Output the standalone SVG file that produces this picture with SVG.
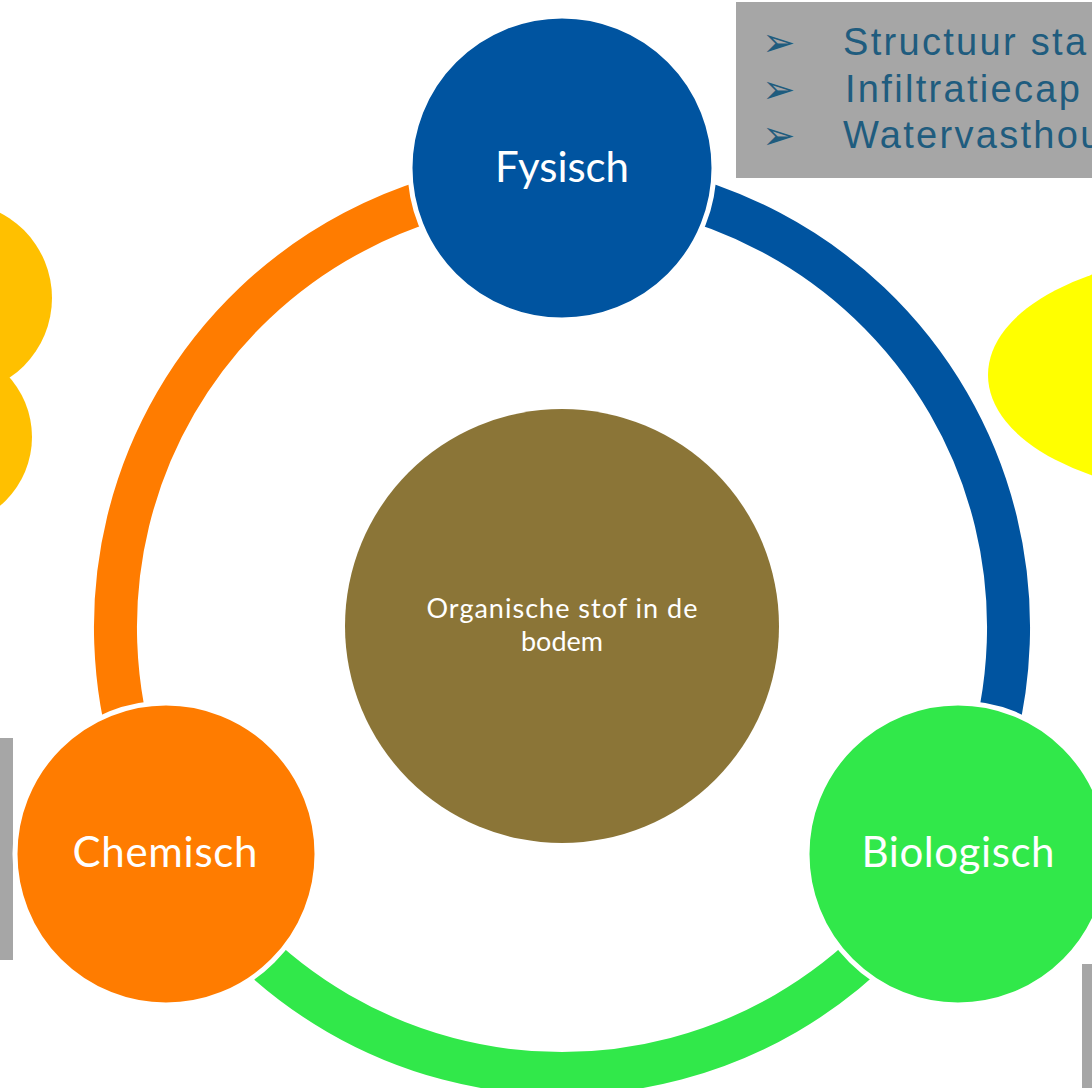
<svg xmlns="http://www.w3.org/2000/svg" width="1092" height="1088" viewBox="0 0 1092 1088">
<style>
.lbl{font-family:Lato,"Open Sans","Liberation Sans",sans-serif;fill:#ffffff;text-anchor:middle}
.big{font-size:42px}
.mid{font-size:27px}
.note{font-family:"Liberation Sans",Arial,sans-serif;font-size:38px;fill:#1f5c7e;letter-spacing:2.3px}
.bul{font-family:"DejaVu Sans",sans-serif;font-size:40px;fill:#1f5c7e}
.gray{fill:#a6a6a6}
.node{stroke:#ffffff;stroke-width:5}
.arc{fill:none;stroke-width:43;stroke-linecap:butt}
</style>
<rect width="1092" height="1088" fill="#ffffff"/>
<g id="decor">
<circle cx="-44" cy="298" r="96" fill="#ffc000"/>
<circle cx="-58" cy="437" r="90" fill="#ffc000"/>
<ellipse cx="1218" cy="375" rx="230" ry="120" fill="#ffff00"/>
<rect class="gray" x="0" y="738" width="13" height="222"/>
<rect class="gray" x="1082" y="964" width="12" height="126"/>
</g>
<g id="notes">
<rect class="gray" x="736" y="2" width="360" height="176"/>
<text class="bul" x="762" y="56">➢</text>
<text class="bul" x="762" y="103">➢</text>
<text class="bul" x="762" y="149">➢</text>
<text class="note" x="843" y="55">Structuur sta</text>
<text class="note" x="845" y="102">Infiltratiecap</text>
<text class="note" x="843" y="148">Watervasthou</text>
</g>
<g id="connectors">
<path class="arc" stroke="#ff7c00" d="M 174.5 848.9 A 446.5 446.5 0 0 1 562 180.5"/>
<path class="arc" stroke="#0054a0" d="M 562 180.5 A 446.5 446.5 0 0 1 949.5 848.9"/>
<path class="arc" stroke="#31e84a" d="M 949.5 848.9 A 446.5 446.5 0 0 1 174.5 848.9"/>
</g>
<g id="node-center">
<circle cx="562" cy="626" r="217" fill="#8b7537"/>
<text class="lbl mid" x="562" y="618" textLength="271">Organische stof in de</text>
<text class="lbl mid" x="562" y="651">bodem</text>
</g>
<g id="node-fysisch">
<circle class="node" cx="562" cy="168" r="152" fill="#0054a0"/>
<text class="lbl big" x="562" y="182" textLength="134">Fysisch</text>
</g>
<g id="node-chemisch">
<circle class="node" cx="166" cy="854" r="151" fill="#ff7c00"/>
<text class="lbl big" x="165" y="867" textLength="185">Chemisch</text>
</g>
<g id="node-biologisch">
<circle class="node" cx="958" cy="854" r="151" fill="#31e84a"/>
<text class="lbl big" x="958" y="867" textLength="193">Biologisch</text>
</g>
</svg>
